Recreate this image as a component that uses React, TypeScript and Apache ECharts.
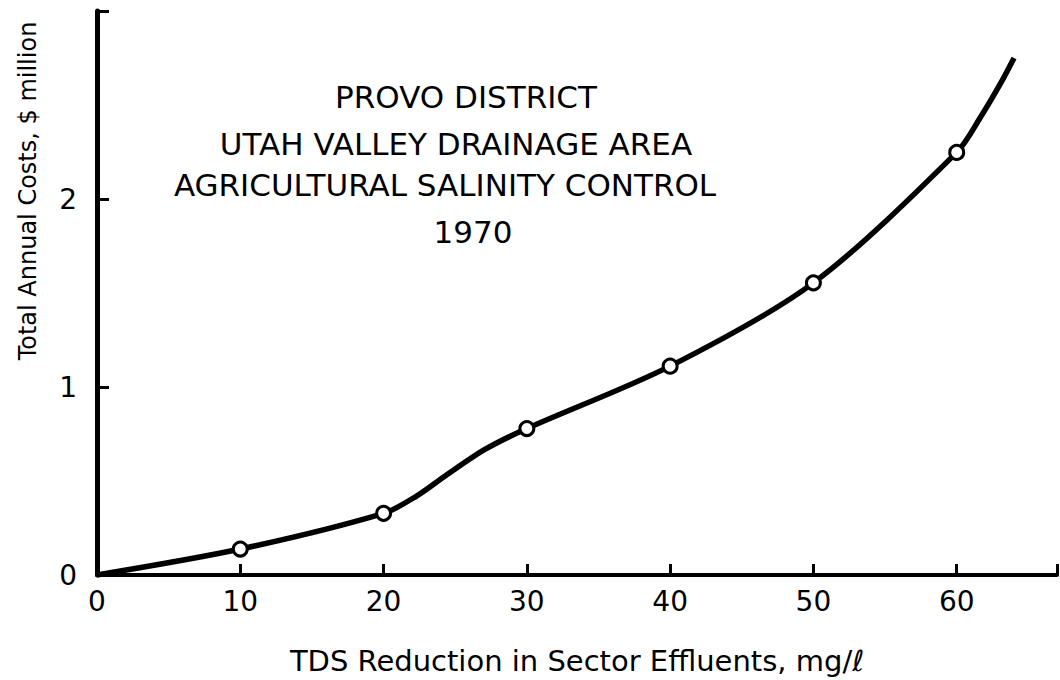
import React, { useEffect, useRef } from "react";
import * as echarts from "echarts";

// Curve (x: TDS reduction mg/l, y: $ million)
const curveX = [0, 10, 20, 22.3, 24.3, 27.1, 30, 40, 50, 60, 61.7, 63.1, 64];
const curveY = [0, 0.138, 0.328, 0.42, 0.527, 0.669, 0.779, 1.111, 1.554, 2.248, 2.44, 2.62, 2.75];
// Open-circle data points
const pointX = [10, 20, 30, 40, 50, 60];
const pointY = [0.138, 0.328, 0.779, 1.111, 1.554, 2.248];
const xTickValues = [0, 10, 20, 30, 40, 50, 60];
const yTickValues = [0, 1, 2];
const titleLines = [
  "PROVO DISTRICT",
  "UTAH VALLEY DRAINAGE AREA",
  "AGRICULTURAL SALINITY CONTROL",
  "1970",
];
const xName = "TDS Reduction in Sector Effluents, mg/\u2113";
const yName = "Total Annual Costs, $ million";

const FONT = "DejaVu Sans";

export default function App() {
  const ref = useRef<HTMLDivElement>(null);
  useEffect(() => {
    if (!ref.current) return;
    const chart = echarts.init(ref.current, undefined, { renderer: "svg" });
    const titlePos = [
      [466, 97],
      [456, 144],
      [445, 185],
      [473, 232],
    ];
    const option: any = {
      animation: false,
      backgroundColor: "#ffffff",
      grid: { left: 97, right: 0, top: 11, bottom: 104, containLabel: false },
      xAxis: {
        type: "value",
        min: 0,
        max: 67,
        interval: 10,
        name: xName,
        nameLocation: "middle",
        nameGap: 71,
        nameTextStyle: { fontFamily: FONT, fontSize: 29, color: "#000" },
        axisLine: { show: true, onZero: false, lineStyle: { color: "#000", width: 4 } },
        axisTick: {
          show: true,
          inside: true,
          length: 11,
          lineStyle: { color: "#000", width: 3 },
        },
        axisLabel: {
          fontFamily: FONT,
          fontSize: 28,
          color: "#000",
          margin: 12,
          formatter: (v: number) => (xTickValues.includes(v) ? String(v) : ""),
        },
        splitLine: { show: false },
      },
      yAxis: {
        type: "value",
        min: 0,
        max: 3,
        interval: 1,
        axisLine: { show: true, onZero: false, lineStyle: { color: "#000", width: 5 } },
        axisTick: {
          show: true,
          inside: true,
          length: 12,
          lineStyle: { color: "#000", width: 3 },
        },
        axisLabel: {
          fontFamily: FONT,
          fontSize: 28,
          color: "#000",
          margin: 20,
          formatter: (v: number) => (yTickValues.includes(v) ? String(v) : ""),
        },
        splitLine: { show: false },
      },
      graphic: [
        ...titleLines.map((t, i) => ({
          type: "text",
          x: titlePos[i][0],
          y: titlePos[i][1],
          style: {
            text: t,
            fontFamily: FONT,
            fontSize: 31,
            fill: "#000",
            align: "center",
            verticalAlign: "middle",
          },
        })),
        {
          type: "text",
          x: 28,
          y: 191,
          rotation: Math.PI / 2,
          style: {
            text: yName,
            fontFamily: FONT,
            fontSize: 24,
            fill: "#000",
            align: "center",
            verticalAlign: "middle",
          },
        },
      ],
      series: [
        {
          type: "line",
          data: curveX.map((x, i) => [x, curveY[i]]),
          smooth: 0.3,
          showSymbol: false,
          lineStyle: { color: "#000", width: 5.5 },
          z: 2,
        },
        {
          type: "scatter",
          data: pointX.map((x, i) => [x, pointY[i]]),
          symbol: "circle",
          symbolSize: 14,
          itemStyle: { color: "#fff", borderColor: "#000", borderWidth: 3, opacity: 1 },
          z: 3,
        },
      ],
    };
    chart.setOption(option);
    return () => chart.dispose();
  }, []);
  return (
    <div
      ref={ref}
      style={{ position: "fixed", left: 0, top: 0, width: 1060, height: 680, background: "#fff" }}
    />
  );
}
